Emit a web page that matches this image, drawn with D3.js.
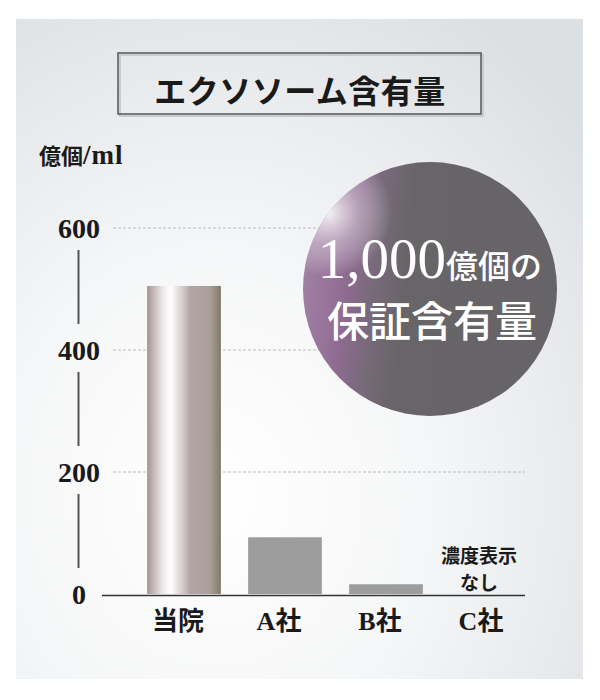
<!DOCTYPE html>
<html><head><meta charset="utf-8">
<script src="https://cdn.jsdelivr.net/npm/d3@7"></script>
<style>html,body{margin:0;padding:0;background:#fff;}svg{display:block;}</style>
</head><body>
<script>
const categories = ["当院", "A社", "B社", "C社"];
const values = [505, 93, 16, null];
const yTicks = [0, 200, 400, 600];
const gridTicks = [200, 400, 600];
const titleText = "エクソソーム含有量";
const unitParts = ["億個", "/ml"];
const noteLines = ["濃度表示", "なし"];
const badgeNumber = "1,000";
const badgeUnit = "億個の";
const badgeLine2 = "保証含有量";

const W = 600, H = 700;
const serif = "'Liberation Serif','Noto Sans CJK JP',serif";
const cjk = "'Noto Sans CJK JP',sans-serif";

const svg = d3.select("body").append("svg").attr("width", W).attr("height", H);
const defs = svg.append("defs");

// panel gradient
const pg = defs.append("radialGradient").attr("id", "panelG")
  .attr("cx", 0.35).attr("cy", 0.72).attr("r", 0.85);
pg.append("stop").attr("offset", 0).attr("stop-color", "#ffffff");
pg.append("stop").attr("offset", 0.45).attr("stop-color", "#f5f6f7");
pg.append("stop").attr("offset", 1).attr("stop-color", "#dde0e3");

// hero bar gradient
const bg = defs.append("linearGradient").attr("id", "heroG").attr("x1", 0).attr("x2", 1).attr("y1", 0).attr("y2", 0);
[[0, "#a09391"], [0.08, "#c2b6b5"], [0.22, "#f0ebeb"], [0.32, "#ffffff"], [0.45, "#ddd5d5"], [0.52, "#c9bebe"], [0.58, "#b3a5a5"], [0.85, "#ab9d9c"], [0.95, "#928876"], [1, "#7d7565"]]
  .forEach(s => bg.append("stop").attr("offset", s[0]).attr("stop-color", s[1]));

// circle gradients
const cg = defs.append("linearGradient").attr("id", "circG").attr("x1", 0).attr("x2", 1).attr("y1", 0.2).attr("y2", 0.3);
[[0, "#a283a5"], [0.12, "#98759b"], [0.2, "#8d6a90"], [0.3, "#786a7a"], [0.42, "#686568"], [1, "#666466"]]
  .forEach(s => cg.append("stop").attr("offset", s[0]).attr("stop-color", s[1]));
const hg = defs.append("radialGradient").attr("id", "circH").attr("cx", 0.1).attr("cy", 0.2).attr("r", 0.25);
hg.append("stop").attr("offset", 0).attr("stop-color", "#ffffff").attr("stop-opacity", 0.9);
hg.append("stop").attr("offset", 0.5).attr("stop-color", "#e6dde6").attr("stop-opacity", 0.45);
hg.append("stop").attr("offset", 1).attr("stop-color", "#ffffff").attr("stop-opacity", 0);

// panel
svg.append("rect").attr("x", 16).attr("y", 19).attr("width", 567).attr("height", 660).attr("fill", "url(#panelG)");

// title box
svg.append("rect").attr("x", 120).attr("y", 55).attr("width", 363).attr("height", 61).attr("fill", "none").attr("stroke", "#c9cbd0").attr("stroke-width", 2);
svg.append("rect").attr("x", 118).attr("y", 53).attr("width", 363).attr("height", 61).attr("fill", "none").attr("stroke", "#555").attr("stroke-width", 1.5);
svg.append("text").attr("x", 300).attr("y", 89).attr("text-anchor", "middle").attr("dominant-baseline", "central")
  .attr("font-family", cjk).attr("font-weight", 700).attr("font-size", 32).attr("letter-spacing", 0.5).attr("fill", "#1a1a1a").text(titleText);

// unit label
const ut = svg.append("text").attr("x", 39).attr("y", 164).attr("font-weight", 700).attr("fill", "#1a1a1a");
ut.append("tspan").attr("font-family", cjk).attr("font-size", 22).text(unitParts[0]);
ut.append("tspan").attr("font-family", serif).attr("font-size", 27).attr("letter-spacing", 1).text(unitParts[1]);

// scales
const y = d3.scaleLinear().domain([0, 600]).range([594, 228]);
const x = d3.scaleBand().domain(categories).range([134, 537]).paddingInner(0.27).paddingOuter(0.13);

// grid lines
svg.append("g").selectAll("line").data(gridTicks).join("line")
  .attr("x1", 113).attr("x2", 525).attr("y1", d => y(d)).attr("y2", d => y(d))
  .attr("stroke", "#b8babd").attr("stroke-width", 1).attr("stroke-dasharray", "3,2");

// y axis segments (broken by labels)
const segs = d3.pairs(yTicks);
svg.append("g").selectAll("line").data(segs).join("line")
  .attr("x1", 78.5).attr("x2", 78.5).attr("y1", d => y(d[1]) + 22).attr("y2", d => y(d[0]) - 26)
  .attr("stroke", "#555").attr("stroke-width", 2);

// y axis labels
const yAxis = svg.append("g").attr("transform", "translate(79,0)")
  .call(d3.axisLeft(y).tickValues(yTicks).tickSize(0).tickPadding(0).tickFormat(d3.format("d")));
yAxis.select(".domain").remove();
yAxis.selectAll("text").attr("text-anchor", "middle").attr("x", 0).attr("dy", "0.35em")
  .attr("font-family", serif).attr("font-weight", 700).attr("font-size", 28).attr("fill", "#1a1a1a");

// bars
const rows = categories.map((c, i) => ({ c, v: values[i], i }));
svg.append("g").selectAll("rect").data(rows.filter(d => d.v != null)).join("rect")
  .attr("x", d => x(d.c)).attr("width", x.bandwidth())
  .attr("y", d => y(d.v)).attr("height", d => y(0) - y(d.v))
  .attr("fill", d => d.i === 0 ? "url(#heroG)" : "#9d9d9d");

// baseline
svg.append("line").attr("x1", 102).attr("x2", 525).attr("y1", 595.5).attr("y2", 595.5).attr("stroke", "#333").attr("stroke-width", 1.6);

// x axis labels
const xAxis = svg.append("g").attr("transform", "translate(0,621)")
  .call(d3.axisBottom(x).tickSize(0).tickPadding(0));
xAxis.select(".domain").remove();
xAxis.selectAll("text").attr("dy", "0.35em").attr("dx", -6)
  .attr("font-family", serif).attr("font-weight", 700).attr("font-size", 26).attr("fill", "#1a1a1a");

// note for C社
const cx = x("C社") + x.bandwidth() / 2 - 8;
svg.append("g").selectAll("text").data(noteLines).join("text")
  .attr("x", cx).attr("y", (d, i) => 554 + i * 27).attr("text-anchor", "middle").attr("dominant-baseline", "central")
  .attr("font-family", cjk).attr("font-weight", 700).attr("font-size", 19).attr("fill", "#1a1a1a").text(d => d);

// badge circle
svg.append("circle").attr("cx", 430).attr("cy", 289).attr("r", 127).attr("fill", "url(#circG)");
svg.append("circle").attr("cx", 430).attr("cy", 289).attr("r", 127).attr("fill", "url(#circH)");
const t1 = svg.append("text").attr("x", 430).attr("y", 278).attr("text-anchor", "middle").attr("fill", "#fff");
t1.append("tspan").attr("font-family", serif).attr("font-size", 57).text(badgeNumber);
t1.append("tspan").attr("font-family", cjk).attr("font-weight", 500).attr("font-size", 32).text(badgeUnit);
svg.append("text").attr("x", 432).attr("y", 318).attr("text-anchor", "middle").attr("dominant-baseline", "central")
  .attr("font-family", cjk).attr("font-weight", 500).attr("font-size", 42).attr("fill", "#fff").text(badgeLine2);
</script>
</body></html>
